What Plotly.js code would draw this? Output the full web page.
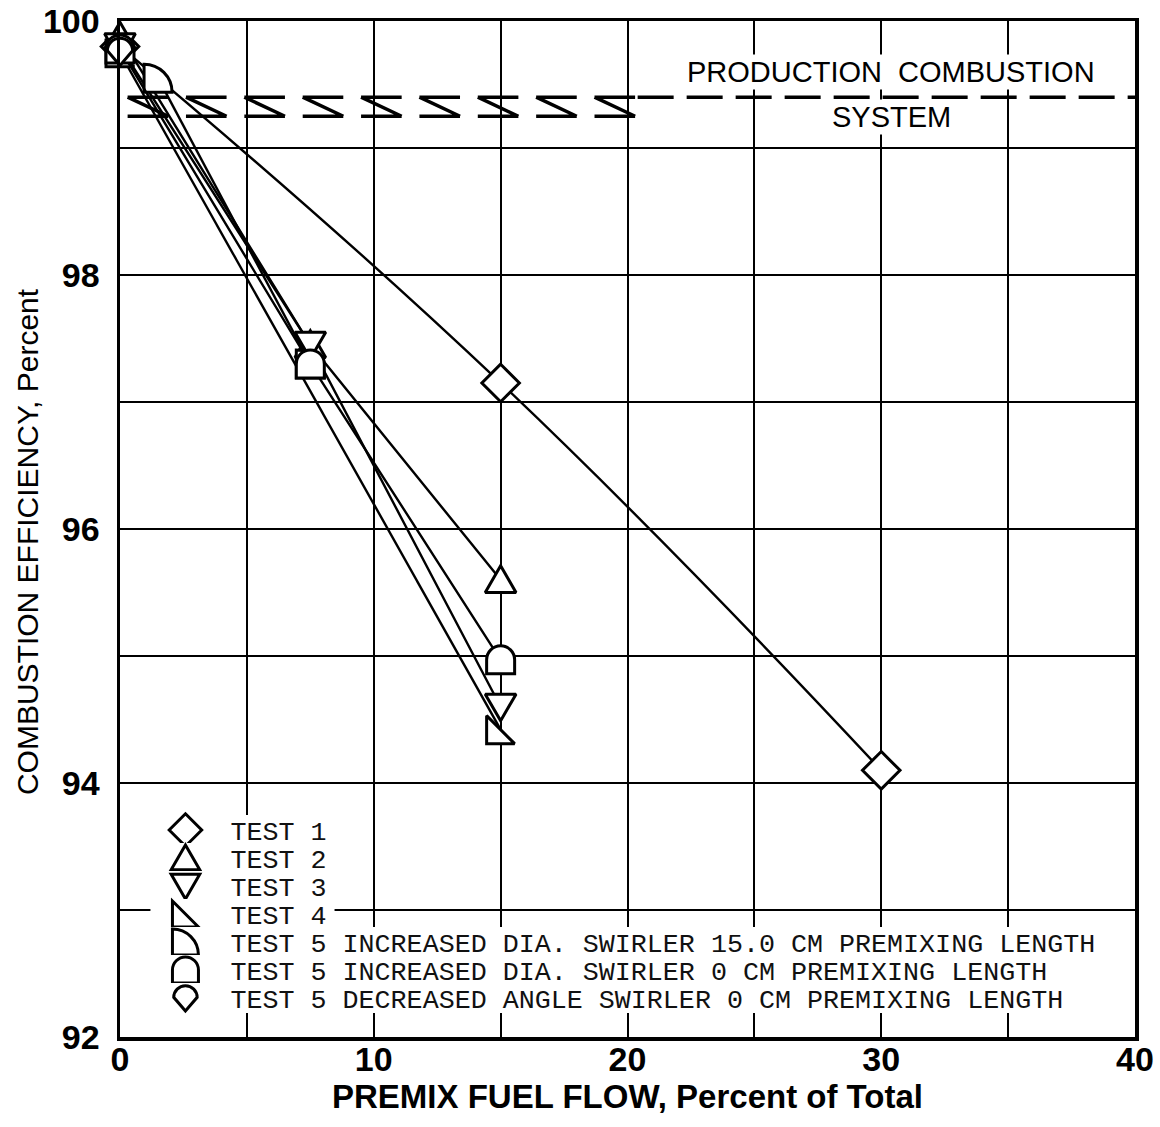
<!DOCTYPE html>
<html>
<head>
<meta charset="utf-8">
<script src="https://cdn.plot.ly/plotly-3.0.1.min.js"></script>
<style>
html, body { margin: 0; padding: 0; background: #ffffff; }
#chart { width: 1160px; height: 1127px; }
.legendlines { display: none; }
</style>
</head>
<body>
<div id="chart"></div>
<script>
// ---------------- data ----------------
const seriesNames = [
  'TEST 1',
  'TEST 2',
  'TEST 3',
  'TEST 4',
  'TEST 5 INCREASED DIA. SWIRLER 15.0 CM PREMIXING LENGTH',
  'TEST 5 INCREASED DIA. SWIRLER 0 CM PREMIXING LENGTH',
  'TEST 5 DECREASED ANGLE SWIRLER 0 CM PREMIXING LENGTH'
];
const test1X = [0, 15, 30];
const test1Y = [99.8, 97.15, 94.1];
const test2X = [0, 7.5, 15];
const test2Y = [99.88, 97.45, 95.6];
const test3X = [0, 7.5, 15];
const test3Y = [99.8, 97.45, 94.6];
const test4X = [0, 15];
const test4Y = [99.75, 94.42];
const test5aX = [1.5, 7.5];
const test5aY = [99.55, 97.3];
const test5bX = [0, 7.5, 15];
const test5bY = [99.78, 97.3, 94.97];
const test5cX = [0];
const test5cY = [99.76];

// production combustion system band
const bandTop = 99.4;
const bandBottom = 99.25;
const bandHatchEnd = 20;
const bandLabel1 = 'PRODUCTION  COMBUSTION';
const bandLabel2 = 'SYSTEM';

const xTickVals = [0, 10, 20, 30, 40];
const yTickVals = [92, 94, 96, 98, 100];

// ---------------- marker shapes ----------------
const symbolPaths = [
  r => `M0,${-r*1.25}L${r*1.25},0L0,${r*1.25}L${-r*1.25},0Z`,                    // diamond
  r => `M0,${-r}L${r*1.1},${r*0.9}L${-r*1.1},${r*0.9}Z`,                         // triangle up
  r => `M0,${r}L${r*1.1},${-r*0.9}L${-r*1.1},${-r*0.9}Z`,                        // triangle down
  r => `M${-r},${-r}L${r},${r}L${-r},${r}Z`,                                      // right triangle
  r => `M${-r},${-r}A${2*r},${2*r} 0 0 1 ${r},${r}L${-r},${r}Z`,                  // quarter round
  r => `M${-r},${r}L${-r},0A${r},${r} 0 0 1 ${r},0L${r},${r}Z`,                   // arch
  r => `M0,${r}L${-r*0.9},${-r*0.05}A${r*0.9},${r*0.9} 0 0 1 ${r*0.9},${-r*0.05}Z` // drop
];
const dataRadius = [15, 14, 14, 14, 14, 14, 14];

const xs = [test1X, test2X, test3X, test4X, test5aX, test5bX, test5cX];
const ys = [test1Y, test2Y, test3Y, test4Y, test5aY, test5bY, test5cY];

const traces = seriesNames.map((name, i) => ({
  type: 'scatter',
  mode: 'lines+markers',
  name: name,
  x: xs[i],
  y: ys[i],
  line: i === 0 ? { color: '#000', width: 2.4, shape: 'spline', smoothing: 1.3 } : { color: '#000', width: 2.4 },
  marker: { symbol: 'circle', size: 26, color: '#ffffff', line: { color: '#000', width: 3 } },
  cliponaxis: false
}));

// hatch shapes for the band (decoration)
const shapes = [];
const hatchStart = 0.3, hatchStep = 2.3, hatchW = 1.6;
for (let a = hatchStart; a + hatchW <= bandHatchEnd + 0.5; a += hatchStep) {
  shapes.push({
    type: 'path', xref: 'x', yref: 'y', layer: 'between',
    path: `M${a},${bandTop} L${a + hatchW},${bandTop} M${a},${bandTop} L${a + hatchW},${bandBottom} M${a},${bandBottom} L${a + hatchW},${bandBottom}`,
    line: { color: '#000', width: 3.5 }
  });
}
shapes.push({
  type: 'line', xref: 'x', yref: 'y', layer: 'between',
  x0: bandHatchEnd + 0.4, x1: 40, y0: bandTop, y1: bandTop,
  line: { color: '#000', width: 3.5, dash: '36px,13px' }
});

const tickFont = { family: 'Liberation Sans Narrow, Arial Narrow, Liberation Sans, sans-serif', size: 34, color: '#000', weight: 'bold' };

const layout = {
  width: 1160,
  height: 1127,
  margin: { l: 120, r: 25, t: 21, b: 90 },
  paper_bgcolor: '#ffffff',
  plot_bgcolor: '#ffffff',
  showlegend: true,
  legend: {
    x: 0.03, y: 0.2215, xanchor: 'left', yanchor: 'top',
    bgcolor: 'rgba(255,255,255,0)', borderwidth: 0,
    font: { family: 'Liberation Mono, DejaVu Sans Mono, monospace', size: 26.7, color: '#111' },
    tracegroupgap: 0
  },
  xaxis: {
    range: [0, 40], tickvals: xTickVals, ticktext: xTickVals.map(String),
    showgrid: true, gridcolor: '#000', gridwidth: 2,
    minor: { dtick: 5, showgrid: true, gridcolor: '#000', gridwidth: 2 },
    showline: true, linecolor: '#000', linewidth: 3.5, mirror: true,
    ticks: '', zeroline: false, tickfont: tickFont, ticklabelstandoff: -10,
    title: { text: 'PREMIX FUEL FLOW, Percent of Total', standoff: 4,
      font: { family: 'Liberation Sans Narrow, Arial Narrow, Liberation Sans, sans-serif', size: 33, color: '#000', weight: 'bold' } }
  },
  yaxis: {
    range: [92, 100], tickvals: yTickVals, ticktext: yTickVals.map(String),
    showgrid: true, gridcolor: '#000', gridwidth: 2,
    minor: { dtick: 1, showgrid: true, gridcolor: '#000', gridwidth: 2 },
    showline: true, linecolor: '#000', linewidth: 3.5, mirror: true,
    ticks: '', zeroline: false, tickfont: tickFont, ticklabelstandoff: 10,
    title: { text: 'COMBUSTION EFFICIENCY, Percent', standoff: 2,
      font: { family: 'Liberation Sans, Arial, sans-serif', size: 30, color: '#000' } }
  },
  shapes: shapes,
  annotations: [
    { x: 30.4, y: 99.6, xref: 'x', yref: 'y', text: bandLabel1, showarrow: false,
      bgcolor: '#ffffff', font: { family: 'Liberation Sans, Arial, sans-serif', size: 29, color: '#000' } },
    { x: 30.4, y: 99.245, xref: 'x', yref: 'y', text: bandLabel2, showarrow: false,
      bgcolor: '#ffffff', font: { family: 'Liberation Sans, Arial, sans-serif', size: 29, color: '#000' } }
  ]
};

const gd = document.getElementById('chart');
Plotly.newPlot(gd, traces, layout, { staticPlot: true, displayModeBar: false }).then(() => {
  const NS = 'http://www.w3.org/2000/svg';
  // custom marker glyphs on the data points
  const traceGroups = gd.querySelectorAll('.scatterlayer .trace');
  traceGroups.forEach((g, i) => {
    const f = symbolPaths[i];
    if (!f) return;
    g.querySelectorAll('path.point').forEach(p => p.setAttribute('d', f(dataRadius[i])));
  });
  // y title slightly right and lower, as in the reference
  const yt = gd.querySelector('text.ytitle');
  if (yt) {
    const nx = 38, ny = 542;
    yt.setAttribute('x', nx);
    yt.setAttribute('y', ny);
    yt.setAttribute('transform', `rotate(-90,${nx},${ny})`);
  }
  // legend: custom glyphs, positions, tighter row spacing, white box behind each row
  const legend = gd.querySelector('g.legend');
  const scroll = legend.querySelector('g.scrollbox');
  if (scroll) scroll.removeAttribute('clip-path');
  const items = gd.querySelectorAll('g.legend g.traces');
  const rowH = 28, pad = 4, textX = 80;
  items.forEach((it, i) => {
    const m = /translate\(([-\d.]+)[ ,]+([-\d.]+)\)/.exec(it.getAttribute('transform') || '');
    const tx = m ? parseFloat(m[1]) : 0;
    it.setAttribute('transform', `translate(${tx},${pad + rowH / 2 + rowH * i})`);
    it.querySelectorAll('path.scatterpts').forEach(p => {
      p.setAttribute('d', symbolPaths[i](13));
      p.setAttribute('transform', 'translate(35,0)');
    });
    const t = it.querySelector('text.legendtext');
    let tw = 100;
    if (t) {
      t.setAttribute('x', textX);
      try { tw = t.getComputedTextLength(); } catch (e) {}
    }
    const r = document.createElementNS(NS, 'rect');
    r.setAttribute('x', -tx);
    r.setAttribute('y', -rowH / 2 - 1);
    r.setAttribute('width', tx + textX + tw + 8);
    r.setAttribute('height', rowH + 2);
    r.setAttribute('fill', '#ffffff');
    it.insertBefore(r, it.firstChild);
  });
  const lm = /translate\(([-\d.]+)[ ,]+([-\d.]+)\)/.exec(legend.getAttribute('transform') || '');
  if (lm) legend.setAttribute('transform', `translate(${lm[1]},${830 - pad - rowH / 2})`);
});
</script>
</body>
</html>
